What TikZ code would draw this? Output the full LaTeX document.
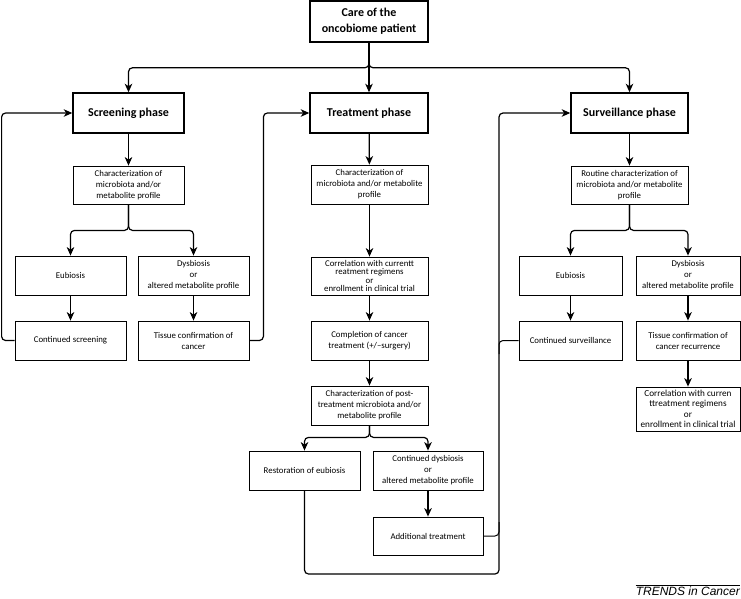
\documentclass[tikz,border=0pt]{standalone}
\usepackage{fontspec}
\setmainfont{Carlito}
\newfontfamily\trendsfont{Liberation Sans}
\usetikzlibrary{positioning, arrows.meta}
\tikzset{
    >={Stealth[length=8.5pt, width=7.5pt, inset=2.5pt]}, % large filled arrow heads
    phase/.style={draw, line width=1.5pt, minimum height=40pt, align=center,
        font=\bfseries\fontsize{12}{16}\selectfont}, % the bold phase boxes
    stepbox/.style={draw, line width=0.8pt, minimum height=39pt, align=center,
        inner sep=1pt, font=\fontsize{8.8}{11}\selectfont}, % the plain boxes
    flow/.style={->, line width=1.2pt, rounded corners=4pt}, % arrows between boxes
    backline/.style={line width=1pt, rounded corners=4pt}, % lines that feed a loop
}

\begin{document}
\begin{tikzpicture}[x=1pt, y=-1pt]
    \useasboundingbox (0,0) rectangle (741,598);

    % top and phases
    \node[phase, minimum width=118pt, minimum height=41pt] (care) at (369,21.5) {Care of the\\oncobiome patient};
    \node[phase, minimum width=111pt] (screen) at (128.5,113) {Screening phase};
    \node[phase, minimum width=118pt] (treat) at (369,113) {Treatment phase};
    \node[phase, minimum width=117pt] (surv) at (629.5,113) {Surveillance phase};

    % screening column
    \node[stepbox, minimum width=111pt, minimum height=38pt] (schar) at (128.5,185) {Characterization of\\microbiota and/or\\metabolite profile};
    \node[stepbox, minimum width=111pt] (seub) at (70.5,275.5) {Eubiosis};
    \node[stepbox, minimum width=111pt] (sdys) at (193.5,275.5) {Dysbiosis\\or\\altered metabolite profile};
    \node[stepbox, minimum width=111pt] (scont) at (70.5,340.5) {Continued screening};
    \node[stepbox, minimum width=111pt] (stis) at (193.5,340.5) {Tissue confirmation of\\cancer};

    % treatment column
    \node[stepbox, minimum width=117pt] (tchar) at (369.5,184.5) {Characterization of\\microbiota and/or metabolite\\profile};
    \node[stepbox, minimum width=117pt, minimum height=38pt, font=\fontsize{8.8}{8.6}\selectfont] (tcorr) at (369.5,276) {Correlation with currentt\\reatment regimens\\or\\enrollment in clinical trial};
    \node[stepbox, minimum width=117pt] (tcomp) at (369.5,340.5) {Completion of cancer\\treatment (+/\textendash surgery)};
    \node[stepbox, minimum width=117pt] (tpost) at (369.5,405.5) {Characterization of post-\\treatment microbiota and/or\\metabolite profile};
    \node[stepbox, minimum width=111pt] (trest) at (304.5,470.5) {Restoration of eubiosis};
    \node[stepbox, minimum width=110pt] (tdys) at (428,470.5) {Continued dysbiosis\\or\\altered metabolite profile};
    \node[stepbox, minimum width=110pt, minimum height=38pt] (tadd) at (428,536) {Additional treatment};

    % surveillance column
    \node[stepbox, minimum width=117pt, minimum height=38pt] (uchar) at (629.5,185) {Routine characterization of\\microbiota and/or metabolite\\profile};
    \node[stepbox, minimum width=103pt] (ueub) at (570.5,275.5) {Eubiosis};
    \node[stepbox, minimum width=104pt] (udys) at (688,275.5) {Dysbiosis\\or\\altered metabolite profile};
    \node[stepbox, minimum width=103pt] (ucont) at (570.5,340.5) {Continued surveillance};
    \node[stepbox, minimum width=104pt] (utis) at (688,340.5) {Tissue confirmation of\\cancer recurrence};
    \node[stepbox, minimum width=104pt, minimum height=44pt, font=\fontsize{9.2}{10.5}\selectfont] (ucorr) at (688,409) {Correlation with curren\\ttreatment regimens\\or\\enrollment in clinical trial};

    \coordinate (loopc) at (499,574);
    \coordinate (joina) at (499,522);
    \coordinate (joinb) at (499,354);

    % top bus
    \draw[flow] (care.south) -- ++(0,25) -| (screen.north);
    \draw[flow] (care.south) -- ++(0,25) -| (surv.north);
    \draw[flow] (care) -- (treat);

    % screening arrows
    \draw[flow] (screen) -- (schar);
    \draw[flow] (schar.south) -- ++(0,26) -| (seub.north);
    \draw[flow] (schar.south) -- ++(0,26) -| (sdys.north);
    \draw[flow] (seub) -- (scont);
    \draw[flow] (sdys) -- (stis);
    \draw[flow] (scont.west) -- ++(-13,0) |- (screen.west);
    \draw[flow] (stis.east) -- ++(14,0) |- (treat.west);

    % treatment arrows
    \draw[flow] (treat) -- (tchar);
    \draw[flow] (tchar) -- (tcorr);
    \draw[flow] (tcorr) -- (tcomp);
    \draw[flow] (tcomp) -- (tpost);
    \draw[flow] (tpost.south) -- ++(0,12) -| (trest.north);
    \draw[flow] (tpost.south) -- ++(0,12) -| (tdys.north);
    \draw[flow] (tdys) -- (tadd);
    \draw[flow] (trest.south) |- (loopc) |- (surv.west);
    \draw[backline] (tadd.east) -| (joina);
    \draw[backline] (ucont.west) -| (joinb);

    % surveillance arrows
    \draw[flow] (surv) -- (uchar);
    \draw[flow] (uchar.south) -- ++(0,26) -| (ueub.north);
    \draw[flow] (uchar.south) -- ++(0,26) -| (udys.north);
    \draw[flow] (ueub) -- (ucont);
    \draw[flow] (udys) -- (utis);
    \draw[flow] (utis) -- (ucorr);

    % journal mark
    \node[anchor=north east, inner sep=0pt, font=\trendsfont\itshape\fontsize{12}{12}\selectfont] (trends) at (740,587) {TRENDS in Cancer};
    \draw[line width=0.4pt] ([yshift=2pt]trends.north west) -- ([yshift=2pt]trends.north east);
\end{tikzpicture}
\end{document}
